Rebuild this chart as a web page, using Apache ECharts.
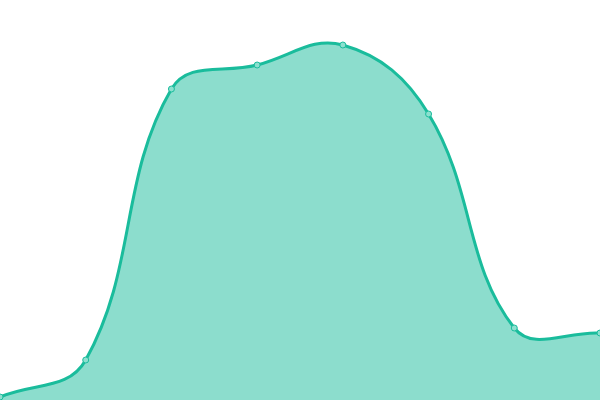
<!DOCTYPE html>
<html>
<head>
    <meta charset="utf-8">
    <style>
        html, body { margin: 0; padding: 0; background: #fff; }
        #main { width: 600px; height: 400px; }
    </style>
</head>
<body>
    <div id="main"></div>
    <script src="https://cdn.jsdelivr.net/npm/echarts@6/dist/echarts.min.js"></script>
    <script type="text/javascript">
        // data
        var categories = ['1', '2', '3', '4', '5', '6', '7', '8'];
        var values = [3, 40, 311, 335, 355, 286, 72, 67];
        var tension = 0.4;

        // control points weighted by segment length (the line series' own smoothing flattens the peaks)
        function controlPoints(prev, cur, next) {
            var d01 = Math.sqrt(Math.pow(cur[0] - prev[0], 2) + Math.pow(cur[1] - prev[1], 2));
            var d12 = Math.sqrt(Math.pow(next[0] - cur[0], 2) + Math.pow(next[1] - cur[1], 2));
            var s01 = d01 / (d01 + d12) || 0;
            var s12 = d12 / (d01 + d12) || 0;
            var fa = tension * s01;
            var fb = tension * s12;
            return {
                before: [cur[0] - fa * (next[0] - prev[0]), cur[1] - fa * (next[1] - prev[1])],
                after: [cur[0] + fb * (next[0] - prev[0]), cur[1] + fb * (next[1] - prev[1])]
            };
        }

        function renderCurve(params, api) {
            var pts = [];
            for (var i = 0; i < values.length; i++) {
                pts.push(api.coord([i, values[i]]));
            }
            var n = pts.length;
            var cps = [];
            for (var i = 0; i < n; i++) {
                cps.push(controlPoints(pts[Math.max(i - 1, 0)], pts[i], pts[Math.min(i + 1, n - 1)]));
            }
            var base = api.coord([0, 0])[1];
            var d = 'M' + pts[0][0] + ' ' + pts[0][1];
            for (var i = 0; i < n - 1; i++) {
                var c1 = cps[i].after;
                var c2 = cps[i + 1].before;
                d += ' C' + c1[0] + ' ' + c1[1] + ' ' + c2[0] + ' ' + c2[1] + ' ' + pts[i + 1][0] + ' ' + pts[i + 1][1];
            }
            var area = d + ' L' + pts[n - 1][0] + ' ' + base + ' L' + pts[0][0] + ' ' + base + ' Z';
            return {
                type: 'group',
                children: [
                    {
                        type: 'path',
                        shape: { pathData: area },
                        style: { fill: 'rgba(26,188,156,0.5)', stroke: 'none' }
                    },
                    {
                        type: 'path',
                        shape: { pathData: d },
                        style: { fill: 'none', stroke: '#1abc9c', lineWidth: 3 }
                    }
                ]
            };
        }

        var myChart = echarts.init(document.getElementById('main'));
        var option = {
            animation: false,
            grid: {
                left: 0,
                right: 0,
                top: 0,
                bottom: 0
            },
            xAxis: {
                type: 'category',
                boundaryGap: false,
                show: false,
                data: categories
            },
            yAxis: {
                type: 'value',
                show: false,
                min: 0,
                max: 400
            },
            series: [
                {
                    type: 'custom',
                    renderItem: renderCurve,
                    data: [0],
                    clip: true,
                    z: 1
                },
                {
                    type: 'line',
                    data: values,
                    symbol: 'circle',
                    symbolSize: 6,
                    lineStyle: { opacity: 0 },
                    itemStyle: {
                        color: '#8ce0cf',
                        borderColor: '#1abc9c',
                        borderWidth: 1
                    },
                    z: 3
                }
            ]
        };
        myChart.setOption(option);
    </script>
</body>
</html>
